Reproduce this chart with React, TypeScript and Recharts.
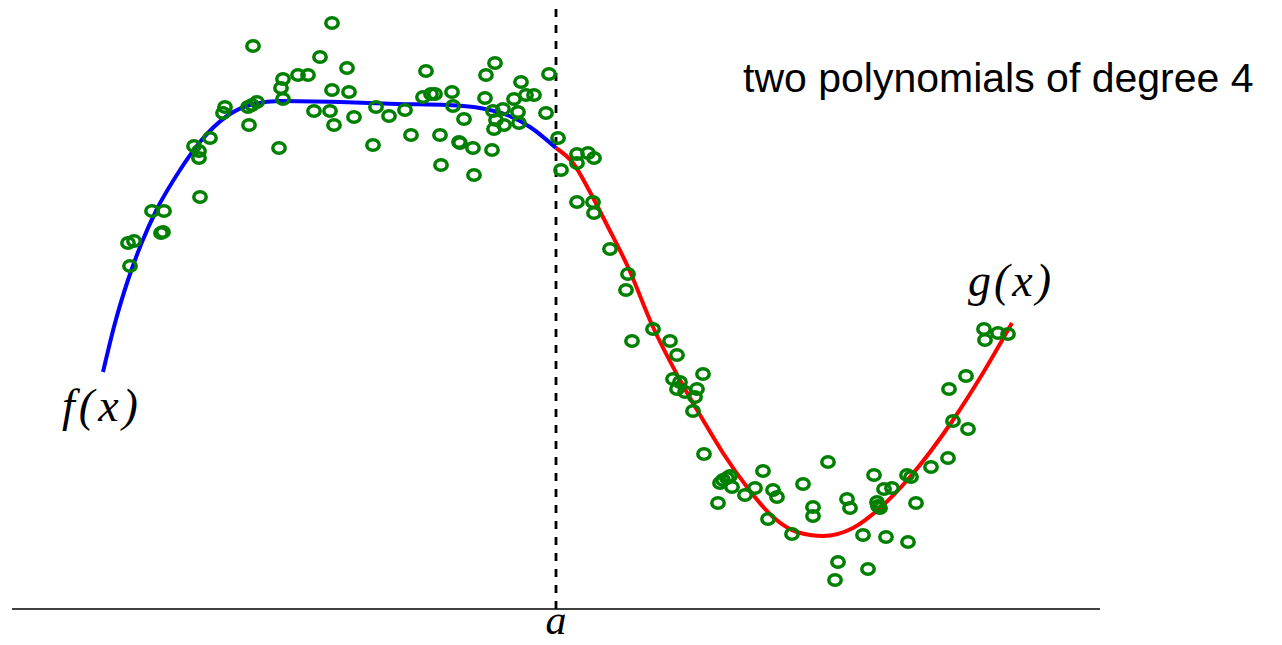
import React from 'react'
import {ComposedChart, Line, Scatter, XAxis, YAxis, ReferenceLine, ReferenceDot} from 'recharts'

// x, y (1 unit = 100px, origin at the left end of the axis line)
const samples = [
    {x: 1.16, y: 3.66}, {x: 1.22, y: 3.68}, {x: 1.18, y: 3.43}, {x: 1.40, y: 3.98},
    {x: 1.52, y: 3.98}, {x: 1.49, y: 3.76}, {x: 1.51, y: 3.77}, {x: 1.88, y: 4.12},
    {x: 1.82, y: 4.63}, {x: 1.87, y: 4.58}, {x: 1.87, y: 4.51}, {x: 1.98, y: 4.71},
    {x: 2.13, y: 5.02}, {x: 2.11, y: 4.96}, {x: 2.36, y: 5.02}, {x: 2.40, y: 5.04},
    {x: 2.45, y: 5.07}, {x: 2.37, y: 4.84}, {x: 2.41, y: 5.63}, {x: 2.67, y: 4.61},
    {x: 2.71, y: 5.30}, {x: 2.69, y: 5.21}, {x: 2.71, y: 5.10}, {x: 2.86, y: 5.34},
    {x: 2.96, y: 5.34}, {x: 3.08, y: 5.52}, {x: 3.20, y: 5.86}, {x: 3.20, y: 5.19},
    {x: 3.02, y: 4.98}, {x: 3.18, y: 4.98}, {x: 3.22, y: 4.84}, {x: 3.35, y: 5.41},
    {x: 3.37, y: 5.17}, {x: 3.42, y: 4.92}, {x: 3.64, y: 5.02}, {x: 3.61, y: 4.64},
    {x: 3.77, y: 4.93}, {x: 3.93, y: 4.99}, {x: 3.99, y: 4.74}, {x: 4.14, y: 5.38},
    {x: 4.11, y: 5.12}, {x: 4.19, y: 5.15}, {x: 4.23, y: 5.15}, {x: 4.28, y: 4.74},
    {x: 4.29, y: 4.44}, {x: 4.40, y: 5.17}, {x: 4.41, y: 5.03}, {x: 4.52, y: 4.90},
    {x: 4.47, y: 4.67}, {x: 4.48, y: 4.66}, {x: 4.61, y: 4.61}, {x: 4.62, y: 4.34},
    {x: 4.74, y: 5.34}, {x: 4.83, y: 5.46}, {x: 4.73, y: 5.11}, {x: 4.81, y: 4.98},
    {x: 4.91, y: 5.00}, {x: 4.84, y: 4.89}, {x: 4.92, y: 4.84}, {x: 4.82, y: 4.80},
    {x: 4.80, y: 4.59}, {x: 5.02, y: 5.10}, {x: 5.09, y: 5.27}, {x: 5.14, y: 5.14},
    {x: 5.22, y: 5.14}, {x: 5.06, y: 4.97}, {x: 5.07, y: 4.86}, {x: 5.37, y: 5.35},
    {x: 5.34, y: 4.96},
    {x: 5.46, y: 4.71}, {x: 5.49, y: 4.39}, {x: 5.65, y: 4.55}, {x: 5.76, y: 4.56},
    {x: 5.82, y: 4.51}, {x: 5.65, y: 4.46}, {x: 5.65, y: 4.07}, {x: 5.81, y: 4.07},
    {x: 5.82, y: 3.96}, {x: 5.98, y: 3.60}, {x: 6.16, y: 3.35}, {x: 6.14, y: 3.19},
    {x: 6.41, y: 2.80}, {x: 6.20, y: 2.68}, {x: 6.58, y: 2.68}, {x: 6.65, y: 2.54},
    {x: 6.91, y: 2.35}, {x: 6.61, y: 2.30}, {x: 6.68, y: 2.27}, {x: 6.65, y: 2.20},
    {x: 6.73, y: 2.17}, {x: 6.85, y: 2.20}, {x: 6.83, y: 2.12}, {x: 6.81, y: 1.98},
    {x: 6.92, y: 1.55}, {x: 7.11, y: 1.29}, {x: 7.15, y: 1.31}, {x: 7.18, y: 1.33},
    {x: 7.08, y: 1.26}, {x: 7.20, y: 1.22}, {x: 7.06, y: 1.06}, {x: 7.33, y: 1.14},
    {x: 7.43, y: 1.21}, {x: 7.51, y: 1.38}, {x: 7.61, y: 1.19}, {x: 7.65, y: 1.12},
    {x: 7.56, y: 0.90}, {x: 7.80, y: 0.75}, {x: 7.91, y: 1.25}, {x: 8.16, y: 1.47},
    {x: 8.01, y: 1.02}, {x: 8.01, y: 0.93}, {x: 8.35, y: 1.10}, {x: 8.38, y: 1.01},
    {x: 8.51, y: 0.74}, {x: 8.26, y: 0.47}, {x: 8.23, y: 0.29}, {x: 8.56, y: 0.40},
    {x: 8.62, y: 1.34}, {x: 8.65, y: 1.07}, {x: 8.66, y: 1.03}, {x: 8.68, y: 1.01},
    {x: 8.72, y: 1.20}, {x: 8.80, y: 1.21}, {x: 8.95, y: 1.34}, {x: 8.99, y: 1.32},
    {x: 9.04, y: 1.06}, {x: 8.74, y: 0.72}, {x: 8.96, y: 0.67}, {x: 9.19, y: 1.42},
    {x: 9.36, y: 1.51}, {x: 9.41, y: 1.88}, {x: 9.56, y: 1.80}, {x: 9.37, y: 2.20},
    {x: 9.54, y: 2.33}, {x: 9.72, y: 2.80}, {x: 9.73, y: 2.69}, {x: 9.86, y: 2.76},
    {x: 9.96, y: 2.75},
]

// f(x), left of a
const fCurve = [
    {x: 0.91, y: 2.37}, {x: 1.03, y: 2.86}, {x: 1.16, y: 3.29}, {x: 1.30, y: 3.67},
    {x: 1.45, y: 4.00}, {x: 1.68, y: 4.39}, {x: 1.88, y: 4.67}, {x: 2.15, y: 4.93},
    {x: 2.38, y: 5.04}, {x: 2.68, y: 5.08}, {x: 3.28, y: 5.07}, {x: 3.85, y: 5.05},
    {x: 4.35, y: 5.04}, {x: 4.68, y: 5.01}, {x: 4.95, y: 4.94}, {x: 5.18, y: 4.82},
    {x: 5.44, y: 4.61},
]

// g(x), right of a
const gCurve = [
    {x: 5.44, y: 4.61}, {x: 5.61, y: 4.46}, {x: 5.78, y: 4.17}, {x: 5.95, y: 3.84},
    {x: 6.16, y: 3.42}, {x: 6.41, y: 2.82}, {x: 6.68, y: 2.29}, {x: 6.91, y: 1.89},
    {x: 7.11, y: 1.56}, {x: 7.35, y: 1.22}, {x: 7.61, y: 0.92}, {x: 7.85, y: 0.77},
    {x: 8.11, y: 0.73}, {x: 8.41, y: 0.81}, {x: 8.68, y: 1.01}, {x: 8.98, y: 1.32},
    {x: 9.41, y: 1.89}, {x: 9.71, y: 2.36}, {x: 10.0, y: 2.86},
]

const knot = 5.44

const mathFont = {fontFamily: '"Liberation Serif", "Times New Roman", serif', fontStyle: 'italic', fontSize: 46}

const Ring = (props: any) => {
    const {cx, cy} = props
    return <ellipse cx={cx} cy={cy} rx={6.2} ry={5.3} fill='none' stroke='#008000' strokeWidth={3.5} />
}

const textAt = (label: string, style: any, anchor: string = 'middle') => (props: any) => (
    <text x={props.cx} y={props.cy} textAnchor={anchor} fill='#000' style={style}>{label}</text>
)

export default function App() {
    return (
        <div style={{position: 'absolute', left: 0, top: 0, width: 1282, height: 645, background: '#fff'}}>
            <ComposedChart width={1282} height={645} margin={{top: 9, right: 182, bottom: 36, left: 12}}>
                <XAxis type='number' dataKey='x' domain={[0, 10.88]} hide />
                <YAxis type='number' dataKey='y' domain={[0, 6]} hide />
                <ReferenceLine x={knot} stroke='#000' strokeWidth={2.8} strokeDasharray='8 8' />
                <ReferenceLine y={0} stroke='#000' strokeWidth={1.4} />
                <Line data={fCurve} dataKey='y' type='monotone' stroke='#0000ff' strokeWidth={4} dot={false} isAnimationActive={false} />
                <Line data={gCurve} dataKey='y' type='monotone' stroke='#ff0000' strokeWidth={4} dot={false} isAnimationActive={false} />
                <Scatter data={samples} dataKey='y' shape={Ring} isAnimationActive={false} />
                <ReferenceDot x={0.90} y={1.88} ifOverflow='visible' shape={textAt('f(x)', {...mathFont, letterSpacing: 4})} />
                <ReferenceDot x={9.99} y={3.13} ifOverflow='visible' shape={textAt('g(x)', {...mathFont, letterSpacing: 3})} />
                <ReferenceDot x={knot} y={-0.25} ifOverflow='visible' shape={textAt('a', {...mathFont, fontSize: 42})} />
                <ReferenceDot x={7.31} y={5.17} ifOverflow='visible'
                    shape={textAt('two polynomials of degree 4', {fontFamily: '"Liberation Sans", Arial, sans-serif', fontSize: 41}, 'start')} />
            </ComposedChart>
        </div>
    )
}
